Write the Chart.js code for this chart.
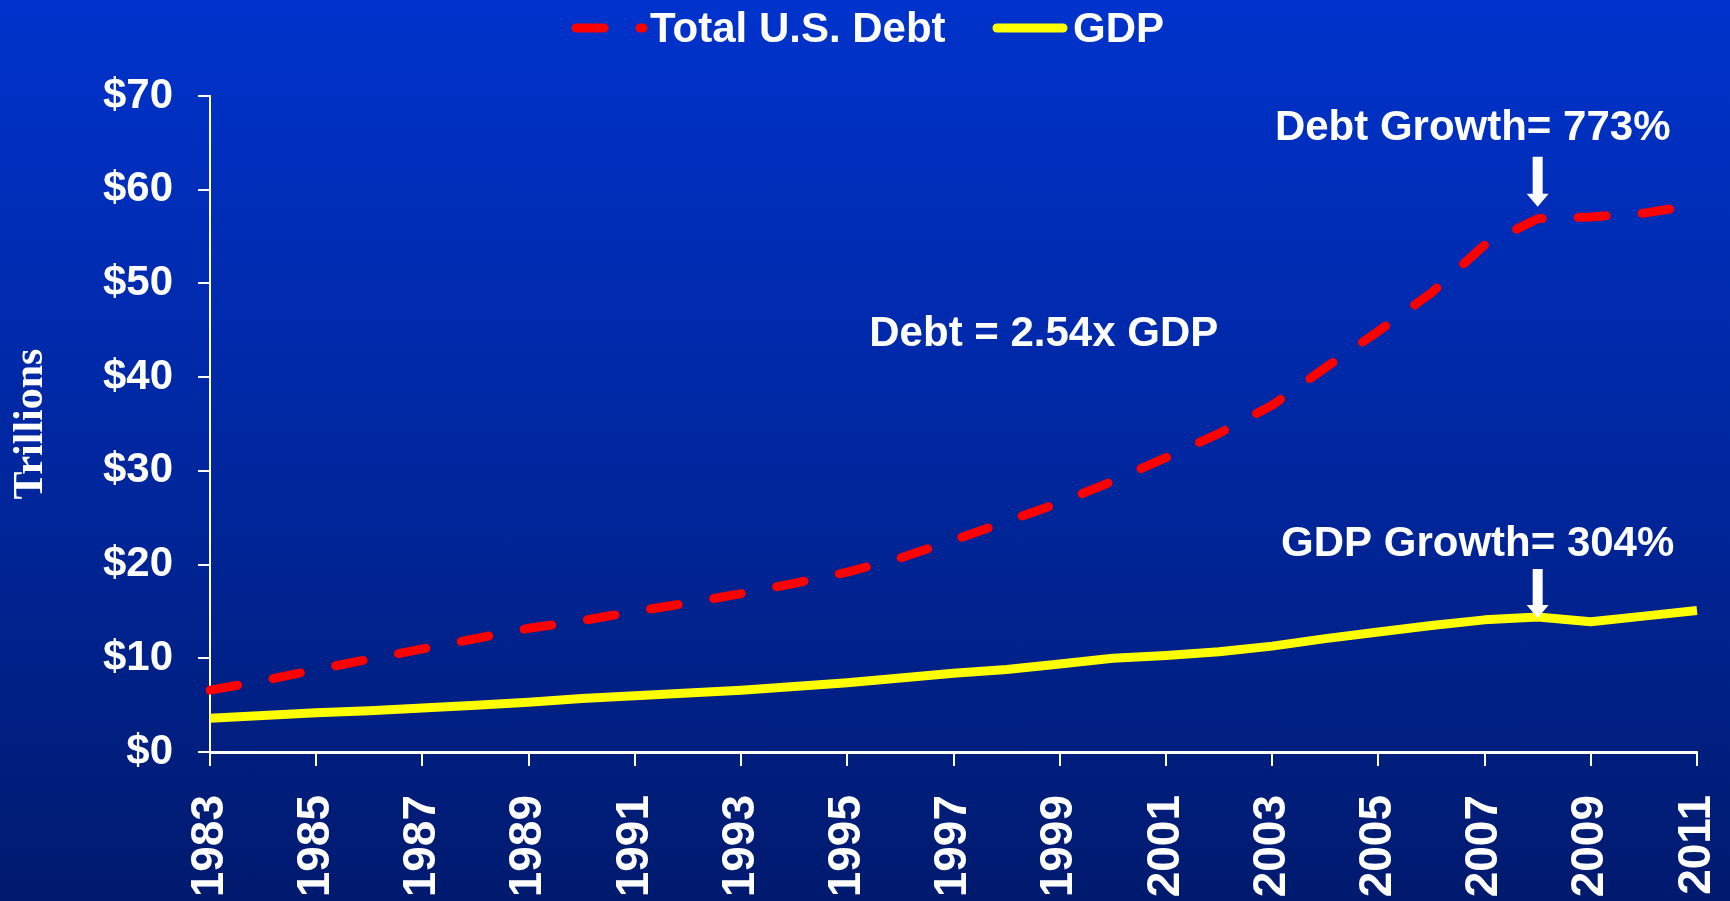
<!DOCTYPE html>
<html>
<head>
<meta charset="utf-8">
<title>Total U.S. Debt vs GDP</title>
<script src="https://cdn.jsdelivr.net/npm/chart.js@4.4.1/dist/chart.umd.min.js"></script>
<style>
  html, body { margin: 0; padding: 0; }
  body {
    width: 1730px;
    height: 901px;
    overflow: hidden;
    background: linear-gradient(to bottom, #0033cc 0%, #0027a0 50%, #001a6e 100%);
  }
  #chart-wrap { position: relative; width: 1730px; height: 901px; }
</style>
</head>
<body>
<div id="chart-wrap"><canvas id="debt-chart"></canvas></div>
<script>
// Years on the x axis (every year plotted, every other one labelled)
const years = [
  "1983", "1984", "1985", "1986", "1987", "1988", "1989", "1990", "1991", "1992",
  "1993", "1994", "1995", "1996", "1997", "1998", "1999", "2000", "2001", "2002",
  "2003", "2004", "2005", "2006", "2007", "2008", "2009", "2010", "2011"
];

// Trillions of dollars
const totalDebt = [
  6.6, 7.6, 8.8, 9.9, 11.0, 12.1, 13.2, 14.0, 15.0, 15.9,
  16.9, 18.0, 19.2, 20.7, 22.6, 24.6, 26.6, 28.9, 31.4, 34.0,
  37.0, 41.0, 44.9, 49.0, 54.1, 56.9, 57.1, 57.5, 58.4
];
const gdp = [
  3.6, 3.9, 4.2, 4.4, 4.7, 5.0, 5.3, 5.7, 6.0, 6.3,
  6.6, 7.0, 7.4, 7.9, 8.4, 8.8, 9.4, 10.0, 10.3, 10.7,
  11.3, 12.1, 12.8, 13.5, 14.1, 14.4, 13.9, 14.5, 15.1
];

const seriesNames = ["Total U.S. Debt", "GDP"];
const calloutYear = "2008";
const debtGrowthText = "Debt Growth= 773%";
const gdpGrowthText = "GDP Growth= 304%";
const ratioText = "Debt = 2.54x GDP";

const boldSans = "bold 42px 'Liberation Sans', Arial, sans-serif";

function drawDownArrow(ctx, x, top, tip) {
  const shaft = 10, headW = 22, headH = 13;
  ctx.beginPath();
  ctx.moveTo(x - shaft / 2, top);
  ctx.lineTo(x + shaft / 2, top);
  ctx.lineTo(x + shaft / 2, tip - headH);
  ctx.lineTo(x + headW / 2, tip - headH);
  ctx.lineTo(x, tip);
  ctx.lineTo(x - headW / 2, tip - headH);
  ctx.lineTo(x - shaft / 2, tip - headH);
  ctx.closePath();
  ctx.fill();
}

// legend line samples + text across the top
const topLegend = {
  id: "topLegend",
  afterDraw(chart) {
    const ctx = chart.ctx;
    const sets = chart.data.datasets;
    ctx.save();
    ctx.lineCap = "round";
    ctx.font = boldSans;
    ctx.fillStyle = "#ffffff";
    ctx.textBaseline = "middle";
    ctx.textAlign = "left";

    ctx.strokeStyle = sets[0].borderColor;
    ctx.lineWidth = sets[0].borderWidth;
    ctx.setLineDash(sets[0].borderDash);
    ctx.beginPath();
    ctx.moveTo(576, 28);
    ctx.lineTo(643, 28);
    ctx.stroke();
    ctx.fillText(sets[0].label, 650, 30);

    ctx.strokeStyle = sets[1].borderColor;
    ctx.lineWidth = sets[1].borderWidth;
    ctx.setLineDash([]);
    ctx.beginPath();
    ctx.moveTo(997, 28);
    ctx.lineTo(1063, 28);
    ctx.stroke();
    ctx.fillText(sets[1].label, 1073, 30);
    ctx.restore();
  }
};

// growth callouts with arrows, plus the ratio note
const callouts = {
  id: "callouts",
  afterDatasetsDraw(chart) {
    const ctx = chart.ctx;
    const xs = chart.scales.x, ys = chart.scales.y;
    const i = years.indexOf(calloutYear);
    const ax = xs.getPixelForValue(i);
    ctx.save();
    ctx.fillStyle = "#ffffff";
    ctx.font = boldSans;
    ctx.textAlign = "center";
    ctx.textBaseline = "middle";

    const debtTip = ys.getPixelForValue(totalDebt[i]) - 12;
    drawDownArrow(ctx, ax, debtTip - 50, debtTip);
    ctx.fillText(debtGrowthText, ax - 65, debtTip - 78);

    const gdpTip = ys.getPixelForValue(gdp[i]) + 1;
    drawDownArrow(ctx, ax, gdpTip - 49, gdpTip);
    ctx.fillText(gdpGrowthText, ax - 60, gdpTip - 74);

    ctx.fillText(ratioText, xs.getPixelForValue(15.7), ys.getPixelForValue(44.6));
    ctx.restore();
  }
};

const ctx = document.getElementById("debt-chart").getContext("2d");
const chart = new Chart(ctx, {
  type: "line",
  data: {
    labels: years,
    datasets: [{
      label: seriesNames[0],
      data: totalDebt,
      borderColor: "#ff0000",
      borderWidth: 9,
      borderDash: [28, 36],
      borderCapStyle: "round",
      borderJoinStyle: "round",
      pointRadius: 0,
      tension: 0,
      fill: false
    }, {
      label: seriesNames[1],
      data: gdp,
      borderColor: "#ffff00",
      borderWidth: 9,
      borderCapStyle: "butt",
      borderJoinStyle: "round",
      pointRadius: 0,
      tension: 0,
      fill: false
    }]
  },
  options: {
    responsive: true,
    maintainAspectRatio: false,
    animation: false,
    layout: { padding: { top: 96, right: 33, left: 0, bottom: 0 } },
    plugins: {
      legend: { display: false },
      tooltip: { enabled: false },
      title: { display: false }
    },
    scales: {
      x: {
        type: "category",
        offset: false,
        afterFit(scale) {
          scale.height = 149;
          scale.paddingLeft = 0;
          scale.paddingRight = 0;
        },
        border: { display: true, color: "#ffffff", width: 3 },
        grid: {
          drawOnChartArea: false,
          drawTicks: true,
          tickLength: 14,
          lineWidth: 2,
          color: c => (c.index % 2 === 0 ? "#ffffff" : "rgba(0,0,0,0)")
        },
        ticks: {
          autoSkip: false,
          minRotation: 90,
          maxRotation: 90,
          padding: 29,
          color: "#ffffff",
          font: { family: "'Liberation Sans', Arial, sans-serif", size: 46, weight: "bold" },
          callback: (v, idx) => (idx % 2 === 0 ? years[idx] : "")
        }
      },
      y: {
        min: 0,
        max: 70,
        afterFit(scale) { scale.width = 210; },
        border: { display: true, color: "#ffffff", width: 2 },
        grid: {
          drawOnChartArea: false,
          drawTicks: true,
          tickLength: 12,
          lineWidth: 2,
          color: "#ffffff"
        },
        ticks: {
          stepSize: 10,
          padding: 25,
          color: "#ffffff",
          font: { family: "'Liberation Sans', Arial, sans-serif", size: 42, weight: "bold" },
          callback: v => "$" + v
        },
        title: {
          display: true,
          text: "Trillions",
          color: "#ffffff",
          padding: { top: 6, bottom: 0 },
          font: { family: "'Liberation Serif', 'Times New Roman', serif", size: 42, weight: "bold" }
        }
      }
    }
  },
  plugins: [topLegend, callouts]
});
</script>
</body>
</html>
